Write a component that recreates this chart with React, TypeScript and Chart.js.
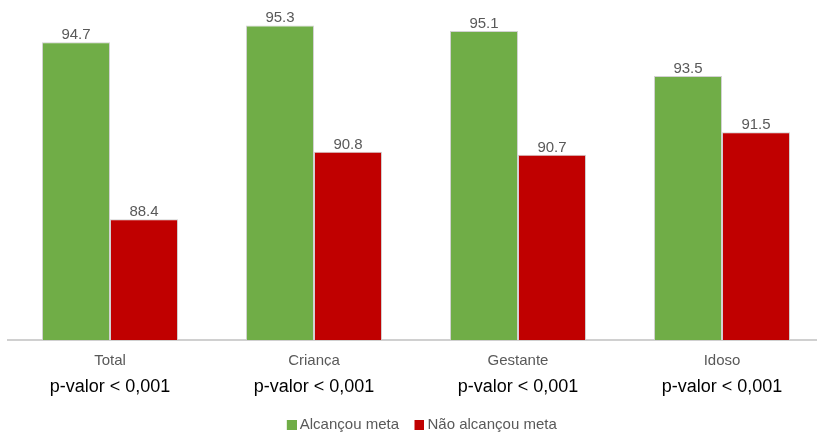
import React, { useEffect, useRef } from "react";
import { Chart, registerables } from "chart.js";

Chart.register(...registerables);

const categories = ["Total", "Criança", "Gestante", "Idoso"];
const pValues = ["p-valor < 0,001", "p-valor < 0,001", "p-valor < 0,001", "p-valor < 0,001"];
const seriesNames = ["Alcançou meta", "Não alcançou meta"];
const alcancou = [94.7, 95.3, 95.1, 93.5];
const naoAlcancou = [88.4, 90.8, 90.7, 91.5];
const seriesColors = ["#70AD47", "#C00000"];
const yMin = 84.1;
const yMax = 96.1;

const FONT = "'Liberation Sans', Arial, Helvetica, sans-serif";

const valueLabels = {
  id: "valueLabels",
  afterDatasetsDraw(chart: any) {
    const ctx = chart.ctx;
    ctx.save();
    ctx.font = `15px ${FONT}`;
    ctx.fillStyle = "#595959";
    ctx.textAlign = "center";
    ctx.textBaseline = "alphabetic";
    chart.data.datasets.forEach((ds: any, i: number) => {
      const meta = chart.getDatasetMeta(i);
      meta.data.forEach((bar: any, j: number) => {
        ctx.fillText(ds.data[j].toFixed(1), bar.x, bar.y - 3);
      });
    });
    ctx.restore();
  },
};

function makeLegendSwatch(color: string) {
  const c = document.createElement("canvas");
  c.width = 26;
  c.height = 10;
  const g = c.getContext("2d")!;
  g.fillStyle = color;
  g.fillRect(16, 0, 10, 10);
  return c;
}

export default function App() {
  const ref = useRef<HTMLCanvasElement | null>(null);
  useEffect(() => {
    if (!ref.current) return;
    const swatches = seriesColors.map(makeLegendSwatch);
    const chart = new Chart(ref.current, {
      type: "bar",
      data: {
        labels: categories,
        datasets: [
          {
            label: seriesNames[0],
            data: alcancou,
            backgroundColor: seriesColors[0],
            borderColor: "rgba(205,205,205,0.9)",
            borderWidth: 1,
          },
          {
            label: seriesNames[1],
            data: naoAlcancou,
            backgroundColor: seriesColors[1],
            borderColor: "rgba(205,205,205,0.9)",
            borderWidth: 1,
          },
        ],
      },
      options: {
        animation: false,
        responsive: false,
        maintainAspectRatio: false,
        layout: { padding: { left: 8, right: 6, top: 3, bottom: -7 } },
        datasets: { bar: { barPercentage: 1, categoryPercentage: 0.667 } },
        plugins: {
          legend: {
            position: "bottom",
            labels: {
              usePointStyle: true,
              pointStyleWidth: 17,
              boxHeight: 10,
              color: "#595959",
              font: { family: FONT, size: 15 },
              padding: 4,
              generateLabels: (ch: any) => {
                const items = (Chart as any).defaults.plugins.legend.labels.generateLabels(ch);
                items.forEach((it: any, i: number) => {
                  it.pointStyle = swatches[i];
                });
                return items;
              },
            },
          },
          tooltip: { enabled: false },
        },
        scales: {
          y: { display: false, min: yMin, max: yMax },
          x: {
            position: "bottom",
            grid: { display: false, drawTicks: false },
            border: { display: true, color: "#d0d0d0", width: 2 },
            ticks: {
              color: "#595959",
              font: { family: FONT, size: 15 },
              padding: 12,
              maxRotation: 0,
            },
            afterFit: (s: any) => {
              s.height = 26;
            },
          },
          x2: {
            type: "category",
            position: "bottom",
            labels: pValues,
            offset: true,
            grid: { display: false, drawTicks: false },
            border: { display: false },
            ticks: {
              color: "#000000",
              font: { family: FONT, size: 18 },
              padding: 10,
              maxRotation: 0,
            },
            afterFit: (s: any) => {
              s.height = 47;
            },
          },
        },
      },
      plugins: [valueLabels],
    });
    return () => chart.destroy();
  }, []);
  return (
    <div style={{ position: "fixed", left: 0, top: 0, width: 817, height: 435, overflow: "hidden", background: "#fff" }}>
      <canvas ref={ref} width={830} height={435} style={{ width: 830, height: 435, display: "block" }} />
    </div>
  );
}
